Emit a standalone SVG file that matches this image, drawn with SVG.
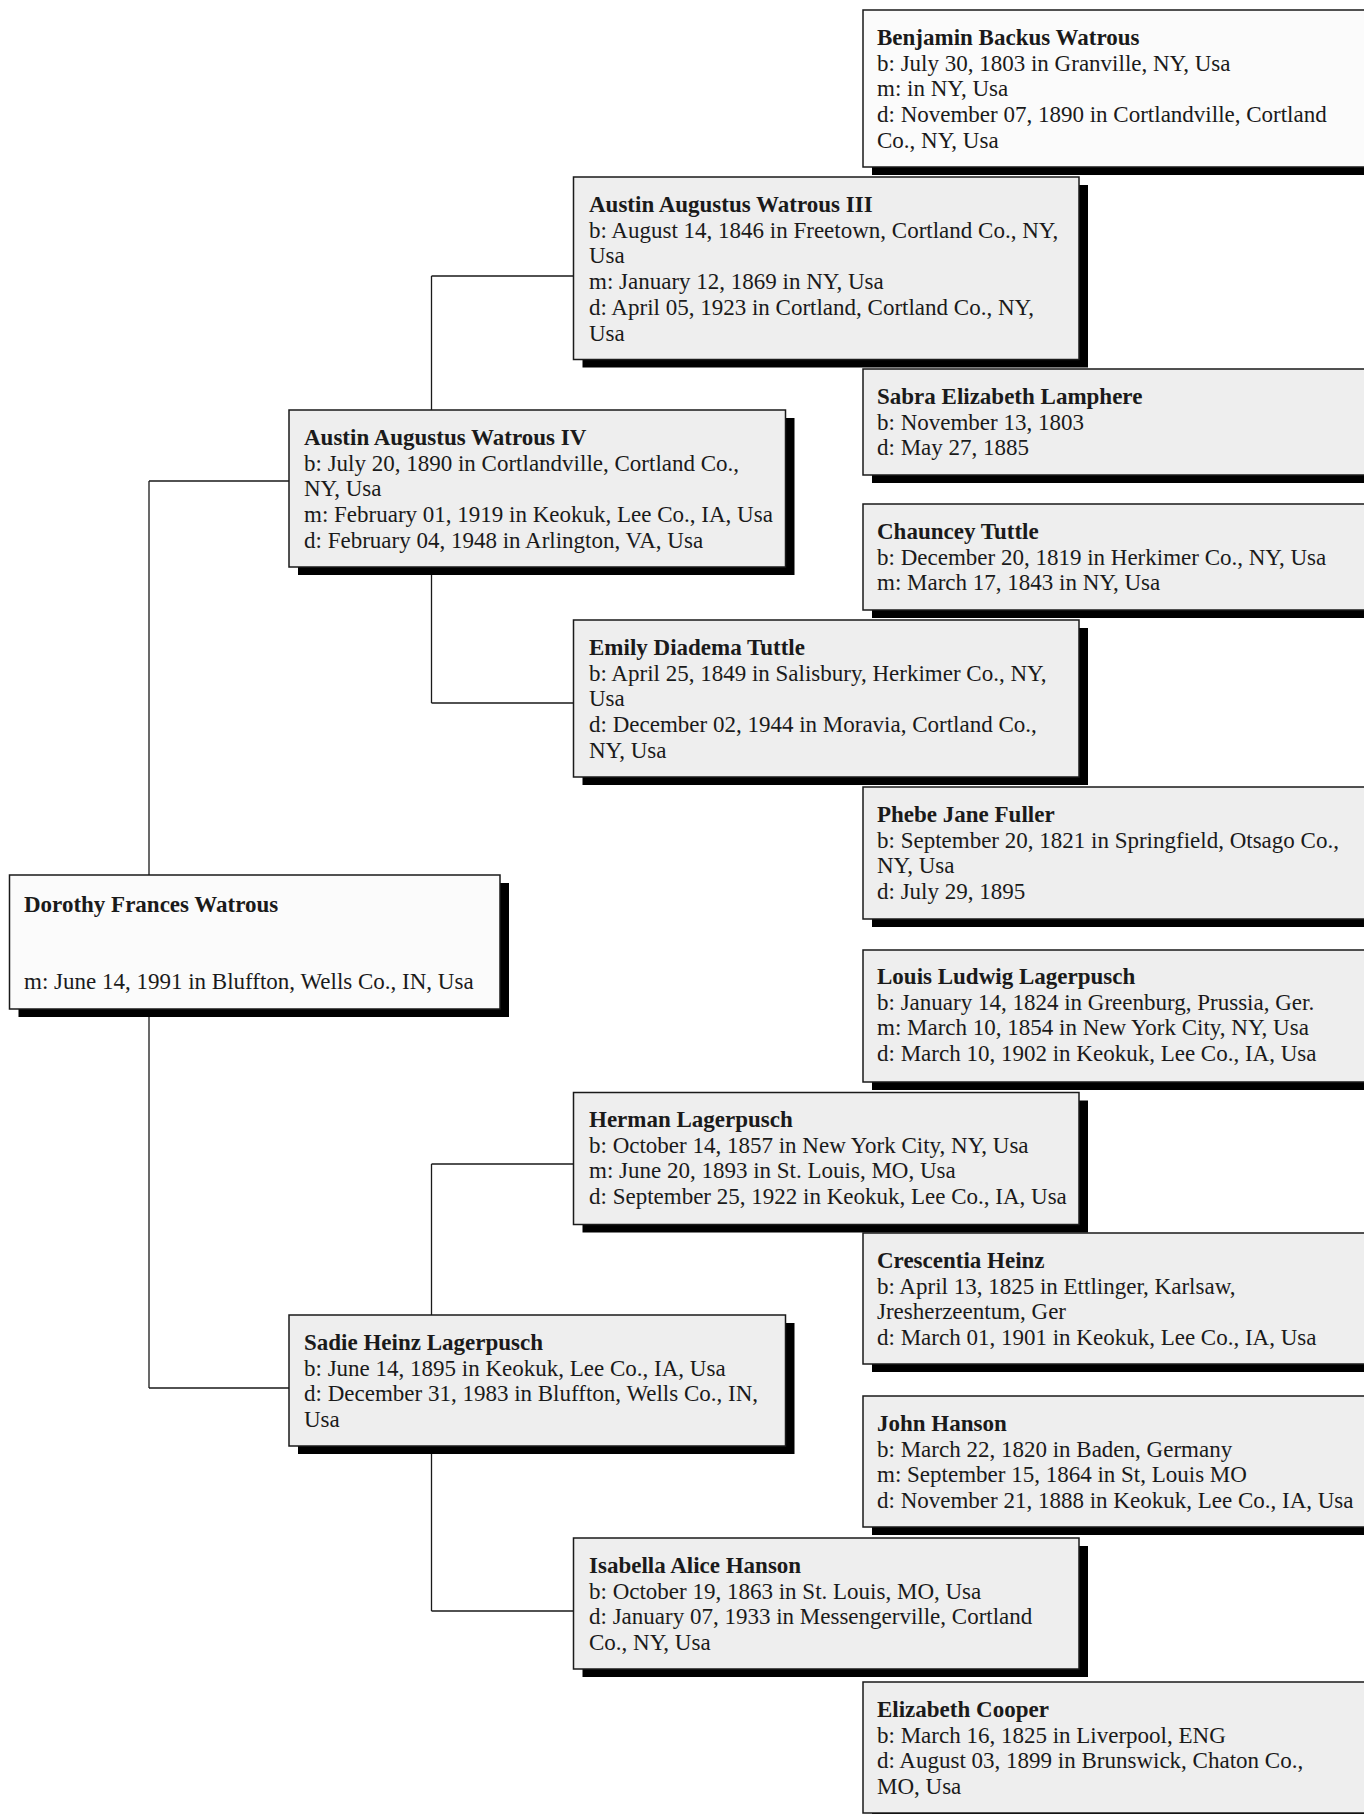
<svg xmlns="http://www.w3.org/2000/svg" width="1364" height="1814" viewBox="0 0 1364 1814">
<style>
.bg{fill:#ffffff}
.sh{fill:#000000}
.box{fill:#eeeeee;stroke:#1a1a1a;stroke-width:1.5}
.wbox{fill:#fbfbfb;stroke:#1a1a1a;stroke-width:1.5}
.conn{stroke:#1a1a1a;stroke-width:1.3;fill:none}
text{font-family:"Liberation Serif","Times New Roman",serif;font-size:23px;fill:#1a1a1a}
.nm{font-weight:bold}
</style>
<rect class="bg" x="0" y="0" width="1364" height="1814"/>
<g id="connectors">
<path class="conn" d="M149,481 V1388 M149,481 H289 M149,1388 H289"/>
<path class="conn" d="M431.5,276 V703 M431.5,276 H573.5 M431.5,703 H573.5"/>
<path class="conn" d="M431.5,1164 V1611 M431.5,1164 H573.5 M431.5,1611 H573.5"/>
</g>
<g id="benjamin">
<rect class="sh" x="872" y="18" width="520" height="157"/>
<rect class="wbox" x="863" y="10" width="520" height="157"/>
<text x="877" y="45"><tspan class="nm">Benjamin Backus Watrous</tspan><tspan x="877" dy="25.7">b: July 30, 1803 in Granville, NY, Usa</tspan><tspan x="877" dy="25.7">m: in NY, Usa</tspan><tspan x="877" dy="25.7">d: November 07, 1890 in Cortlandville, Cortland</tspan><tspan x="877" dy="25.7">Co., NY, Usa</tspan></text>
</g>
<g id="austin3">
<rect class="sh" x="582.5" y="185" width="505.5" height="182.5"/>
<rect class="box" x="573.5" y="177" width="505.5" height="182.5"/>
<text x="589" y="212"><tspan class="nm">Austin Augustus Watrous III</tspan><tspan x="589" dy="25.7">b: August 14, 1846 in Freetown, Cortland Co., NY,</tspan><tspan x="589" dy="25.7">Usa</tspan><tspan x="589" dy="25.7">m: January 12, 1869 in NY, Usa</tspan><tspan x="589" dy="25.7">d: April 05, 1923 in Cortland, Cortland Co., NY,</tspan><tspan x="589" dy="25.7">Usa</tspan></text>
</g>
<g id="sabra">
<rect class="sh" x="872" y="377" width="520" height="106"/>
<rect class="box" x="863" y="369" width="520" height="106"/>
<text x="877" y="404"><tspan class="nm">Sabra Elizabeth Lamphere</tspan><tspan x="877" dy="25.7">b: November 13, 1803</tspan><tspan x="877" dy="25.7">d: May 27, 1885</tspan></text>
</g>
<g id="austin4">
<rect class="sh" x="298" y="418" width="496.5" height="157"/>
<rect class="box" x="289" y="410" width="496.5" height="157"/>
<text x="304" y="445"><tspan class="nm">Austin Augustus Watrous IV</tspan><tspan x="304" dy="25.7">b: July 20, 1890 in Cortlandville, Cortland Co.,</tspan><tspan x="304" dy="25.7">NY, Usa</tspan><tspan x="304" dy="25.7">m: February 01, 1919 in Keokuk, Lee Co., IA, Usa</tspan><tspan x="304" dy="25.7">d: February 04, 1948 in Arlington, VA, Usa</tspan></text>
</g>
<g id="chauncey">
<rect class="sh" x="872" y="512" width="520" height="106"/>
<rect class="box" x="863" y="504" width="520" height="106"/>
<text x="877" y="539"><tspan class="nm">Chauncey Tuttle</tspan><tspan x="877" dy="25.7">b: December 20, 1819 in Herkimer Co., NY, Usa</tspan><tspan x="877" dy="25.7">m: March 17, 1843 in NY, Usa</tspan></text>
</g>
<g id="emily">
<rect class="sh" x="582.5" y="628" width="505.5" height="157"/>
<rect class="box" x="573.5" y="620" width="505.5" height="157"/>
<text x="589" y="655"><tspan class="nm">Emily Diadema Tuttle</tspan><tspan x="589" dy="25.7">b: April 25, 1849 in Salisbury, Herkimer Co., NY,</tspan><tspan x="589" dy="25.7">Usa</tspan><tspan x="589" dy="25.7">d: December 02, 1944 in Moravia, Cortland Co.,</tspan><tspan x="589" dy="25.7">NY, Usa</tspan></text>
</g>
<g id="phebe">
<rect class="sh" x="872" y="795" width="520" height="132"/>
<rect class="box" x="863" y="787" width="520" height="132"/>
<text x="877" y="822"><tspan class="nm">Phebe Jane Fuller</tspan><tspan x="877" dy="25.7">b: September 20, 1821 in Springfield, Otsago Co.,</tspan><tspan x="877" dy="25.7">NY, Usa</tspan><tspan x="877" dy="25.7">d: July 29, 1895</tspan></text>
</g>
<g id="dorothy">
<rect class="sh" x="18.5" y="883" width="490.5" height="134"/>
<rect class="wbox" x="9.5" y="875" width="490.5" height="134"/>
<text x="24" y="911.5"><tspan class="nm">Dorothy Frances Watrous</tspan><tspan x="24" y="988.5">m: June 14, 1991 in Bluffton, Wells Co., IN, Usa</tspan></text>
</g>
<g id="louis">
<rect class="sh" x="872" y="958" width="520" height="132"/>
<rect class="box" x="863" y="950" width="520" height="132"/>
<text x="877" y="984"><tspan class="nm">Louis Ludwig Lagerpusch</tspan><tspan x="877" dy="25.7">b: January 14, 1824 in Greenburg, Prussia, Ger.</tspan><tspan x="877" dy="25.7">m: March 10, 1854 in New York City, NY, Usa</tspan><tspan x="877" dy="25.7">d: March 10, 1902 in Keokuk, Lee Co., IA, Usa</tspan></text>
</g>
<g id="herman">
<rect class="sh" x="582.5" y="1100.5" width="505.5" height="132"/>
<rect class="box" x="573.5" y="1092.5" width="505.5" height="132"/>
<text x="589" y="1127"><tspan class="nm">Herman Lagerpusch</tspan><tspan x="589" dy="25.7">b: October 14, 1857 in New York City, NY, Usa</tspan><tspan x="589" dy="25.7">m: June 20, 1893 in St. Louis, MO, Usa</tspan><tspan x="589" dy="25.7">d: September 25, 1922 in Keokuk, Lee Co., IA, Usa</tspan></text>
</g>
<g id="crescentia">
<rect class="sh" x="872" y="1241" width="520" height="131"/>
<rect class="box" x="863" y="1233" width="520" height="131"/>
<text x="877" y="1268"><tspan class="nm">Crescentia Heinz</tspan><tspan x="877" dy="25.7">b: April 13, 1825 in Ettlinger, Karlsaw,</tspan><tspan x="877" dy="25.7">Jresherzeentum, Ger</tspan><tspan x="877" dy="25.7">d: March 01, 1901 in Keokuk, Lee Co., IA, Usa</tspan></text>
</g>
<g id="sadie">
<rect class="sh" x="298" y="1323" width="496.5" height="131"/>
<rect class="box" x="289" y="1315" width="496.5" height="131"/>
<text x="304" y="1350"><tspan class="nm">Sadie Heinz Lagerpusch</tspan><tspan x="304" dy="25.7">b: June 14, 1895 in Keokuk, Lee Co., IA, Usa</tspan><tspan x="304" dy="25.7">d: December 31, 1983 in Bluffton, Wells Co., IN,</tspan><tspan x="304" dy="25.7">Usa</tspan></text>
</g>
<g id="john">
<rect class="sh" x="872" y="1404" width="520" height="131"/>
<rect class="box" x="863" y="1396" width="520" height="131"/>
<text x="877" y="1431"><tspan class="nm">John Hanson</tspan><tspan x="877" dy="25.7">b: March 22, 1820 in Baden, Germany</tspan><tspan x="877" dy="25.7">m: September 15, 1864 in St, Louis MO</tspan><tspan x="877" dy="25.7">d: November 21, 1888 in Keokuk, Lee Co., IA, Usa</tspan></text>
</g>
<g id="isabella">
<rect class="sh" x="582.5" y="1546" width="505.5" height="131"/>
<rect class="box" x="573.5" y="1538" width="505.5" height="131"/>
<text x="589" y="1573"><tspan class="nm">Isabella Alice Hanson</tspan><tspan x="589" dy="25.7">b: October 19, 1863 in St. Louis, MO, Usa</tspan><tspan x="589" dy="25.7">d: January 07, 1933 in Messengerville, Cortland</tspan><tspan x="589" dy="25.7">Co., NY, Usa</tspan></text>
</g>
<g id="elizabeth">
<rect class="sh" x="872" y="1690" width="520" height="131"/>
<rect class="box" x="863" y="1682" width="520" height="131"/>
<text x="877" y="1717"><tspan class="nm">Elizabeth Cooper</tspan><tspan x="877" dy="25.7">b: March 16, 1825 in Liverpool, ENG</tspan><tspan x="877" dy="25.7">d: August 03, 1899 in Brunswick, Chaton Co.,</tspan><tspan x="877" dy="25.7">MO, Usa</tspan></text>
</g>
</svg>
